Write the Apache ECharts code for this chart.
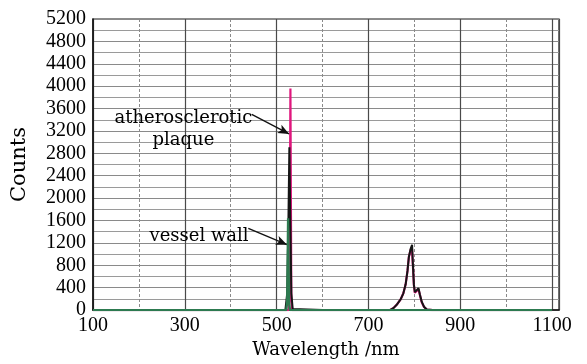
<!DOCTYPE html>
<html>
<head>
<meta charset="utf-8">
<script src="https://cdn.jsdelivr.net/npm/echarts@6/dist/echarts.min.js"></script>
<style>html,body{margin:0;padding:0;background:#fff;}#c{width:587px;height:364px;}</style>
</head>
<body>
<div id="c"></div>
<script>
// ---- data (wavelength nm, counts) ----
var plaqueX = [100, 500, 526, 528, 530, 532, 534, 600, 746, 755, 762, 770, 776, 781, 785, 788, 792, 794.5, 797, 799, 801, 805, 809, 812, 816, 821, 827, 840, 1100];
var plaqueY = [0, 0, 0, 200, 3960, 200, 0, 0, 0, 40, 100, 190, 300, 460, 700, 950, 1080, 1120, 760, 440, 310, 330, 370, 270, 140, 55, 10, 0, 0];

var blackX = [100, 500, 519, 521, 523, 525.5, 527.7, 530, 532, 535, 537, 600, 747, 755, 762, 770, 776, 781, 785, 788, 792, 795, 797, 799, 801, 805, 809, 812, 816, 821, 827, 840, 1100];
var blackY = [0, 0, 0, 20, 300, 1500, 2910, 1500, 300, 20, 0, 0, 0, 40, 100, 190, 300, 460, 700, 950, 1100, 1165, 780, 450, 320, 345, 390, 280, 150, 60, 10, 0, 0];

var wallX = [100, 500, 521, 523, 525, 527, 529, 600, 1100];
var wallY = [0, 0, 0, 150, 1640, 150, 0, 0, 0];

var yTicks = [0, 400, 800, 1200, 1600, 2000, 2400, 2800, 3200, 3600, 4000, 4400, 4800, 5200];
var xTickLabels = [100, 300, 500, 700, 900, 1100];

// annotations (data space)
var plaqueLabelPos = [297, 3225];
var plaqueArrow = [[445.7, 3496], [527, 3147]];
var wallLabelPos = [331, 1310];
var wallArrow = [[438.3, 1461], [522.5, 1169]];

function zip(xs, ys) { return xs.map(function (x, i) { return [x, ys[i]]; }); }

var chart = echarts.init(document.getElementById('c'), null, {renderer: 'canvas'});
var tickFont = 'Liberation Serif';
var textFont = 'DejaVu Serif';

var option = {
  animation: false,
  backgroundColor: '#ffffff',
  grid: {left: 93, right: 28, top: 19, bottom: 47, show: true, borderColor: '#1a1a1a', borderWidth: 1.2, backgroundColor: 'transparent'},
  xAxis: [{
    type: 'value', min: 100, max: 1115, interval: 100,
    name: 'Wavelength /nm', nameLocation: 'middle', nameGap: 24,
    nameTextStyle: {fontFamily: textFont, fontSize: 18, color: '#000'},
    axisLine: {show: true, lineStyle: {color: '#111', width: 1.5}},
    axisTick: {show: false},
    axisLabel: {
      margin: 6, fontFamily: tickFont, fontSize: 20, color: '#000',
      formatter: function (v) { return xTickLabels.indexOf(v) >= 0 ? String(v) : ''; }
    },
    splitLine: {show: true, lineStyle: {color: '#8a8a8a', width: 1, type: [3, 2]}}
  }, {
    type: 'value', min: 0, max: 1015, interval: 200, position: 'bottom',
    axisLine: {show: false}, axisTick: {show: false}, axisLabel: {show: false},
    splitLine: {show: true, lineStyle: {color: '#4a4a4a', width: 1.2}}
  }],
  yAxis: {
    type: 'value', min: 0, max: 5200, interval: 400,
    name: 'Counts', nameLocation: 'middle', nameGap: 63,
    nameTextStyle: {fontFamily: textFont, fontSize: 21, color: '#000'},
    axisLine: {show: true, lineStyle: {color: '#111', width: 1.5}},
    axisTick: {show: false},
    axisLabel: {margin: 7, fontFamily: tickFont, fontSize: 20, color: '#000',
      formatter: function (v) { return yTicks.indexOf(v) >= 0 ? String(v) : ''; }},
    splitLine: {show: true, lineStyle: {color: '#8a8a8a', width: 1.2}},
    minorTick: {show: false, splitNumber: 2},
    minorSplitLine: {show: true, lineStyle: {color: '#9a9a9a', width: 1}}
  },
  series: [{
    name: 'plaque', type: 'line', xAxisIndex: 0, data: zip(plaqueX, plaqueY),
    showSymbol: false, symbol: 'none', lineStyle: {color: '#e0177e', width: 2.2}, z: 3
  }, {
    name: 'black', type: 'line', xAxisIndex: 0, data: zip(blackX, blackY),
    showSymbol: false, symbol: 'none', lineStyle: {color: '#151515', width: 2}, z: 4
  }, {
    name: 'wall', type: 'line', xAxisIndex: 0, data: zip(wallX, wallY),
    showSymbol: false, symbol: 'none', lineStyle: {color: '#2d7a50', width: 2.4}, z: 5,
    markLine: {
      silent: true, symbol: ['none', 'arrow'], symbolSize: [7, 11],
      lineStyle: {color: '#111', width: 1.3, type: 'solid'}, label: {show: false},
      data: [
        [{coord: plaqueArrow[0]}, {coord: plaqueArrow[1]}],
        [{coord: wallArrow[0]}, {coord: wallArrow[1]}]
      ]
    }
  }, {
    name: 'labels', type: 'scatter', xAxisIndex: 0, symbolSize: 0, silent: true,
    itemStyle: {color: '#000', opacity: 1},
    data: [
      {value: plaqueLabelPos, label: {formatter: 'atherosclerotic\nplaque'}},
      {value: wallLabelPos, label: {formatter: 'vessel wall'}}
    ],
    label: {show: true, position: 'inside', fontFamily: textFont, fontSize: 18, lineHeight: 22,
      color: '#000', opacity: 1, textBorderWidth: 0, align: 'center'},
    z: 6
  }]
};
chart.setOption(option);
</script>
</body>
</html>
